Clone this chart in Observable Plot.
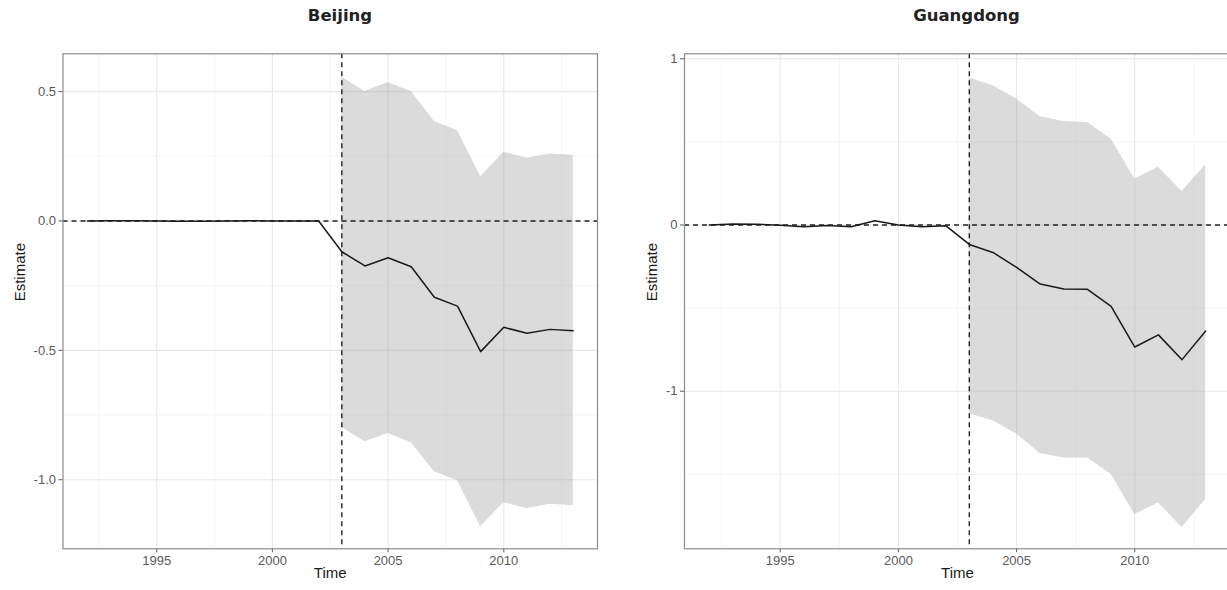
<!DOCTYPE html>
<html>
<head>
<meta charset="utf-8">
<script src="https://cdn.jsdelivr.net/npm/d3@7"></script>
<script src="https://cdn.jsdelivr.net/npm/@observablehq/plot@0.6"></script>
<style>
  html, body { margin: 0; padding: 0; background: #fff; overflow: hidden; width: 1227px; height: 590px; }
  #wrap { position: relative; width: 1227px; height: 590px; overflow: hidden; }
  .panel { position: absolute; top: 0; }
  .title { height: 30px; line-height: 32px; text-align: center; font-family: "DejaVu Sans", sans-serif; font-weight: bold; font-size: 16.5px; color: #222; white-space: nowrap; }
  .panel svg { display: block; }
</style>
</head>
<body>
<div id="wrap">
  <div class="panel" id="p1" style="left:0px;"><div class="title" style="width:680px;"></div></div>
  <div class="panel" id="p2" style="left:610px;"><div class="title" style="width:713px;"></div></div>
</div>
<script>
// ---- data ----
const titles = ["Beijing", "Guangdong"];
const xLabel = "Time";
const yLabel = "Estimate";
const treatYear = 2003;

const years = [1992,1993,1994,1995,1996,1997,1998,1999,2000,2001,2002,2003,2004,2005,2006,2007,2008,2009,2010,2011,2012,2013];
const postYears = [2003,2004,2005,2006,2007,2008,2009,2010,2011,2012,2013];

const bjEstimate = [0,0.001,0.001,0,-0.001,-0.001,0,0.001,0,0,0,
  -0.119,-0.174,-0.142,-0.177,-0.295,-0.329,-0.505,-0.411,-0.434,-0.419,-0.424];
const bjUpper = [0.555,0.500,0.535,0.500,0.384,0.349,0.171,0.266,0.242,0.259,0.254];
const bjLower = [-0.798,-0.853,-0.821,-0.857,-0.969,-1.004,-1.182,-1.089,-1.111,-1.095,-1.101];

const gdEstimate = [0,0.006,0.005,-0.002,-0.01,-0.003,-0.01,0.026,0,-0.01,-0.004,
  -0.117,-0.165,-0.255,-0.355,-0.385,-0.387,-0.490,-0.734,-0.661,-0.810,-0.638];
const gdUpper = [0.885,0.838,0.758,0.652,0.622,0.617,0.517,0.277,0.347,0.202,0.363];
const gdLower = [-1.135,-1.177,-1.258,-1.374,-1.402,-1.402,-1.500,-1.741,-1.673,-1.820,-1.652];

const xTicks = [1995, 2000, 2005, 2010];
const xMinor = [1992.5, 1997.5, 2002.5, 2007.5, 2012.5];
const bjYTicks = [0.5, 0, -0.5, -1.0];
const bjYMinor = [0.25, -0.25, -0.75];
const gdYTicks = [1, 0, -1];
const gdYMinor = [0.5, -0.5, -1.5];

function panel(cfg) {
  const line = years.map((y, i) => ({year: y, est: cfg.est[i]}));
  const band = postYears.map((y, i) => ({year: y, lo: cfg.lo[i], hi: cfg.hi[i]}));
  return Plot.plot({
    width: cfg.width,
    height: 560,
    marginTop: 23.3,
    marginBottom: 41.7,
    marginLeft: cfg.ml,
    marginRight: cfg.mr,
    style: {fontFamily: "'Liberation Sans', Arial, sans-serif", fontSize: "13px", color: "#5a5a5a", background: "white"},
    x: {domain: [1990.95, 2014.05], ticks: xTicks, tickFormat: d => String(d), tickSize: 4, tickPadding: 3, label: null},
    y: {domain: cfg.ydomain, ticks: cfg.yticks, tickFormat: cfg.yfmt, tickSize: 4, tickPadding: 3, label: null},
    marks: [
      Plot.ruleX(xMinor, {stroke: "#f2f2f2", strokeWidth: 0.7}),
      Plot.ruleY(cfg.yminor, {stroke: "#f2f2f2", strokeWidth: 0.7}),
      Plot.ruleX(xTicks, {stroke: "#e8e8e8", strokeWidth: 1.1}),
      Plot.ruleY(cfg.yticks, {stroke: "#e8e8e8", strokeWidth: 1.1}),
      Plot.areaY(band, {x: "year", y1: "lo", y2: "hi", fill: "#a6a6a6", fillOpacity: 0.4}),
      Plot.ruleY([0], {stroke: "#222", strokeWidth: 1.4, strokeDasharray: "5,4"}),
      Plot.ruleX([treatYear], {stroke: "#222", strokeWidth: 1.4, strokeDasharray: "5,4"}),
      Plot.lineY(line, {x: "year", y: "est", stroke: "#1a1a1a", strokeWidth: 1.5}),
      Plot.frame({stroke: "#8c8c8c", strokeWidth: 1.2}),
      Plot.text([xLabel], {frameAnchor: "bottom", dy: 29, text: d => d, fill: "#1a1a1a", fontSize: 15}),
      Plot.text([yLabel], {frameAnchor: "left", dx: cfg.ylabDx, rotate: -90, text: d => d, fill: "#1a1a1a", fontSize: 15})
    ]
  });
}

const p1 = document.getElementById("p1");
p1.querySelector(".title").textContent = titles[0];
p1.appendChild(panel({
  width: 610, ml: 62.5, mr: 13,
  est: bjEstimate, lo: bjLower, hi: bjUpper,
  ydomain: [-1.267, 0.646], yticks: bjYTicks, yminor: bjYMinor,
  yfmt: d => d.toFixed(1), ylabDx: -42.5
}));

const p2 = document.getElementById("p2");
p2.querySelector(".title").textContent = titles[1];
p2.appendChild(panel({
  width: 626, ml: 74, mr: 6,
  est: gdEstimate, lo: gdLower, hi: gdUpper,
  ydomain: [-1.948, 1.03], yticks: gdYTicks, yminor: gdYMinor,
  yfmt: d => String(d), ylabDx: -32
}));
</script>
</body>
</html>
